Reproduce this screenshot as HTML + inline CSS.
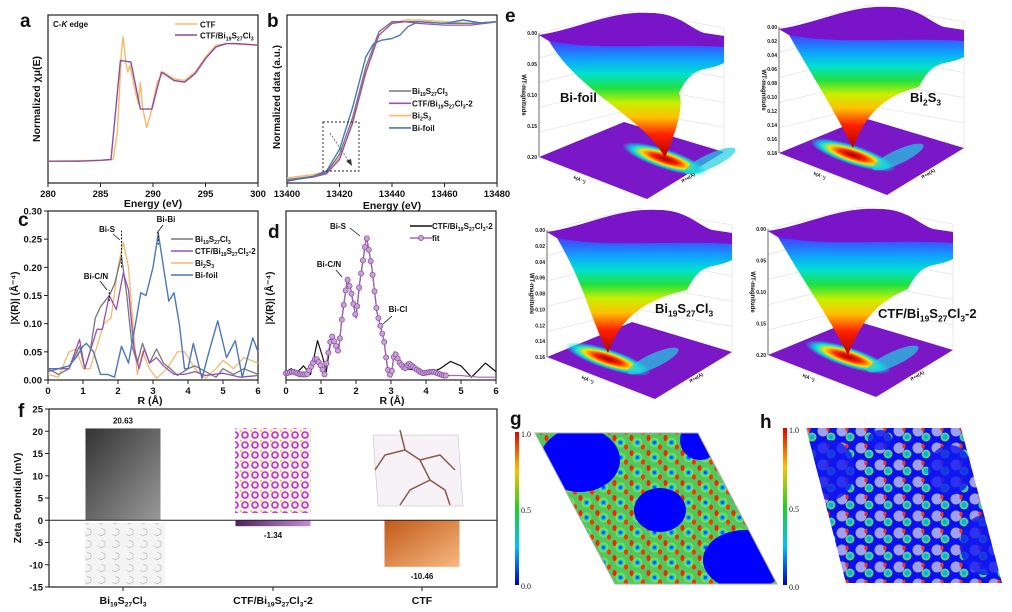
<!DOCTYPE html>
<html><head><meta charset="utf-8"><style>
html,body{margin:0;padding:0;background:#fff;}
svg{display:block;font-family:"Liberation Sans",Arial,sans-serif;}
</style></head><body>
<svg id="fig" width="1012" height="612" viewBox="0 0 1012 612" xmlns="http://www.w3.org/2000/svg">
<defs>
<linearGradient id="rainbow" x1="0" y1="0" x2="0" y2="1">
<stop offset="0" stop-color="#8a10d0"/><stop offset="0.18" stop-color="#4a30ff"/><stop offset="0.32" stop-color="#10a0ff"/><stop offset="0.42" stop-color="#00e0d0"/><stop offset="0.52" stop-color="#20e040"/><stop offset="0.62" stop-color="#c8f000"/><stop offset="0.72" stop-color="#ffc000"/><stop offset="0.84" stop-color="#ff2000"/><stop offset="1" stop-color="#b00000"/>
</linearGradient>
<linearGradient id="cbar" x1="0" y1="0" x2="0" y2="1">
<stop offset="0" stop-color="#e00000"/><stop offset="0.25" stop-color="#ffc000"/><stop offset="0.5" stop-color="#20d020"/><stop offset="0.75" stop-color="#00c0ff"/><stop offset="1" stop-color="#0000c0"/>
</linearGradient>
<linearGradient id="grayBar" x1="0" y1="0" x2="1" y2="1"><stop offset="0" stop-color="#333"/><stop offset="1" stop-color="#999"/></linearGradient>
<linearGradient id="purpBar" x1="0" y1="0" x2="1" y2="0"><stop offset="0" stop-color="#4a2858"/><stop offset="1" stop-color="#c58ad8"/></linearGradient>
<linearGradient id="orBar" x1="0" y1="0" x2="1" y2="1"><stop offset="0" stop-color="#c05a18"/><stop offset="1" stop-color="#f8b880"/></linearGradient>
<radialGradient id="floorHot"><stop offset="0" stop-color="#a00000"/><stop offset="0.3" stop-color="#ff2000"/><stop offset="0.55" stop-color="#ffe000"/><stop offset="0.75" stop-color="#00e0e0"/><stop offset="1" stop-color="#00e0e0" stop-opacity="0"/></radialGradient>
<pattern id="elf" width="17" height="15" patternUnits="userSpaceOnUse">
<rect width="17" height="15" fill="#50c860"/>
<circle cx="8.5" cy="7.5" r="5" fill="#80e040"/><circle cx="8.5" cy="7.5" r="3" fill="#00c0ff"/><circle cx="8.5" cy="7.5" r="1.4" fill="#1030ff"/>
<ellipse cx="2.5" cy="3" rx="2" ry="3" fill="#ff2000"/><ellipse cx="14" cy="12" rx="2" ry="2.6" fill="#ff3000"/>
</pattern>
<pattern id="elf2" width="19" height="17" patternUnits="userSpaceOnUse">
<rect width="19" height="17" fill="#0a10f0"/>
<circle cx="6" cy="6" r="5.5" fill="#b0b0f0" opacity="0.9"/><circle cx="14" cy="12" r="4.5" fill="#60d060"/><circle cx="14" cy="12" r="2.5" fill="#00b0ff"/><ellipse cx="11" cy="4" rx="1.6" ry="2.4" fill="#ff3000"/>
</pattern>
<pattern id="mag" width="10" height="10" patternUnits="userSpaceOnUse">
<rect width="10" height="10" fill="#f6f0f6"/><circle cx="5" cy="5" r="3" fill="none" stroke="#c030c0" stroke-width="1.6"/><circle cx="1" cy="1" r="1.2" fill="#d8e040"/>
</pattern>
<pattern id="hexg" width="14" height="12" patternUnits="userSpaceOnUse">
<rect width="14" height="12" fill="#f4f4f4"/><path d="M3 0 L7 2 L7 6 L3 8 L0 6" fill="none" stroke="#bbb" stroke-width="0.7"/>
</pattern>
</defs>
<g id="root"></g>
</svg>
<script>
// ---------- DATA ----------
const aEnergy = [280,283,285,286,286.9,287.9,288.8,289.9,290.8,292,293,294,295,296,297,298,300];
const aCTFBi  = [0.13,0.13,0.135,0.14,0.73,0.72,0.44,0.44,0.66,0.61,0.60,0.65,0.74,0.81,0.83,0.83,0.82];
const aEnergyCTF = [280,285,286.2,286.6,287,287.15,287.4,287.6,287.8,288,288.3,288.6,288.8,289,289.4,289.8,290.4,291,292,293,294,295,296,297,300];
const aCTF = [0.13,0.135,0.14,0.3,0.78,0.87,0.72,0.66,0.70,0.64,0.55,0.47,0.6,0.45,0.33,0.42,0.6,0.66,0.62,0.61,0.66,0.75,0.82,0.83,0.82];
const aTicks = [280,285,290,295,300];

const bE = [13400,13410,13415,13420,13425,13430,13433,13436,13440,13443,13446,13450,13460,13467,13475,13480];
const bBifoil = [0.01,0.04,0.07,0.2,0.45,0.75,0.83,0.85,0.86,0.88,0.93,0.96,0.95,0.97,0.95,0.96];
const bE2 = [13400,13410,13415,13420,13425,13430,13435,13440,13445,13450,13460,13470,13480];
const bBi2S3 = [0.03,0.05,0.07,0.15,0.35,0.65,0.88,0.95,0.97,0.97,0.96,0.95,0.96];
const bBi19 = [0.02,0.04,0.06,0.17,0.39,0.69,0.9,0.96,0.96,0.96,0.95,0.95,0.96];
const bCTFBi = [0.015,0.035,0.055,0.14,0.36,0.66,0.88,0.95,0.96,0.95,0.94,0.94,0.96];
const bTicks = [13400,13420,13440,13460,13480];

const cR_foil = [0,0.3,0.6,0.8,1.0,1.1,1.3,1.5,1.7,1.9,2.1,2.3,2.5,2.65,2.8,3.0,3.15,3.3,3.45,3.6,3.75,3.9,4.0,4.15,4.4,4.6,4.85,5.1,5.35,5.55,5.85,6];
const cFoil = [0.02,0.02,0.025,0.04,0.06,0.065,0.05,0.01,0.01,0.005,0.06,0.03,0.1,0.155,0.15,0.2,0.26,0.2,0.14,0.155,0.1,0.02,0.02,0.065,0.003,0.05,0.105,0.04,0.07,0.005,0.075,0.05];
const cR_bi19 = [0,0.3,0.6,0.9,1.05,1.2,1.35,1.5,1.75,1.9,2.1,2.25,2.4,2.55,2.7,2.9,3.1,3.3,3.5,3.7,4.0,4.2,4.5,4.8,5.0,5.3,5.6,6];
const cBi19 = [0.02,0.01,0.02,0.06,0.02,0.05,0.11,0.13,0.15,0.17,0.22,0.15,0.06,0.03,0.065,0.03,0.055,0.03,0.02,0.008,0.02,0.025,0.015,0.005,0.02,0.01,0.02,0.01];
const cR_ctf = [0,0.3,0.6,0.9,1.05,1.2,1.4,1.55,1.75,1.95,2.15,2.3,2.45,2.6,2.75,2.9,3.1,3.3,3.6,3.9,4.2,4.5,5.0,5.5,6];
const cCTF = [0.015,0.02,0.02,0.072,0.02,0.05,0.09,0.09,0.15,0.125,0.19,0.16,0.06,0.02,0.055,0.03,0.04,0.025,0.01,0.01,0.015,0.008,0.012,0.005,0.008];
const cR_bs = [0,0.3,0.6,0.8,1.0,1.2,1.4,1.6,1.8,2.0,2.15,2.3,2.45,2.55,2.7,2.9,3.1,3.4,3.7,3.9,4.2,4.5,4.8,5.0,5.3,5.6,6];
const cBi2S3 = [0.01,0.005,0.05,0.055,0.02,0.02,0.06,0.1,0.11,0.2,0.245,0.2,0.08,0.01,0.05,0.02,0.003,0.02,0.05,0.05,0.02,0.003,0.02,0.035,0.02,0.04,0.03];
const cXTicks = [0,1,2,3,4,5,6];
const cYTicks = [0,0.05,0.10,0.15,0.20,0.25,0.30];
const cYLabels = ["0.00","0.05","0.10","0.15","0.20","0.25","0.30"];

const dR = [0,0.2,0.4,0.6,0.85,1.0,1.1,1.3,1.5,1.6,1.75,1.85,2.0,2.1,2.3,2.45,2.6,2.8,2.9,3.0,3.1,3.25,3.4,3.5,3.7,3.9,4.2,4.5,5.0,5.5,6];
const dFit = [0.012,0.015,0.01,0.01,0.04,0.025,0.01,0.08,0.05,0.11,0.18,0.16,0.11,0.17,0.255,0.2,0.12,0.07,0.02,0.005,0.05,0.03,0.02,0.03,0.02,0.012,0.015,0.008,0.008,0.005,0.005];
const dR_exp = [0,0.15,0.3,0.5,0.7,0.9,1.05,1.15,1.3,1.5,1.6,1.75,1.85,2.0,2.1,2.3,2.45,2.6,2.8,2.9,3.0,3.1,3.25,3.4,3.7,4.0,4.4,4.7,5.0,5.3,5.7,6];
const dExp = [0.015,0.02,0.012,0.025,0.01,0.07,0.04,0.015,0.08,0.05,0.11,0.18,0.16,0.11,0.17,0.255,0.2,0.12,0.07,0.02,0.005,0.05,0.03,0.02,0.018,0.01,0.02,0.033,0.025,0.005,0.03,0.015];

const fCats = ["Bi19S27Cl3","CTF/Bi19S27Cl3-2","CTF"];
const fVals = [20.63,-1.34,-10.46];
const fLabels = ["20.63","-1.34","-10.46"];
const fTicks = [-15,-10,-5,0,5,10,15,20,25];

// ---------- HELPERS ----------
const NS="http://www.w3.org/2000/svg";
const root=document.getElementById('root');
function mk(tag,attrs,parent){const e=document.createElementNS(NS,tag);for(const k in attrs)e.setAttribute(k,attrs[k]);(parent||root).appendChild(e);return e;}
function scale(d0,d1,r0,r1){return v=>r0+(v-d0)/(d1-d0)*(r1-r0);}
function txt(x,y,s,size,anchor,parent,extra){const t=mk('text',Object.assign({x:x,y:y,'font-size':size,'font-weight':'bold','text-anchor':anchor||'start',fill:'#111'},extra||{}),parent);t.textContent=s;return t;}
function ftxt(x,y,parts,size,anchor,parent){const t=mk('text',{x:x,y:y,'font-size':size,'font-weight':'bold','text-anchor':anchor||'start',fill:'#111'},parent);
 let shifted=false;
 parts.forEach(p=>{const s=document.createElementNS(NS,'tspan');s.textContent=p[0];
  if(p[1]){s.setAttribute('font-size',size*0.65);s.setAttribute('dy',shifted?0:size*0.25);shifted=true;}
  else{s.setAttribute('dy',shifted?-size*0.25:0);shifted=false;}
  t.appendChild(s);});return t;}
const BI19=[["Bi",0],["19",1],["S",0],["27",1],["Cl",0],["3",1]];
const CTFBI19=[["CTF/Bi",0],["19",1],["S",0],["27",1],["Cl",0],["3",1]];
const CTFBI19_2=[["CTF/Bi",0],["19",1],["S",0],["27",1],["Cl",0],["3",1],["-2",0]];
const BI2S3=[["Bi",0],["2",1],["S",0],["3",1]];
function line(xs,ys,sx,sy,color,w,g,name){const d=xs.map((x,i)=>(i?'L':'M')+sx(x).toFixed(1)+' '+sy(ys[i]).toFixed(1)).join(' ');
 const p=mk('path',{d:d,fill:'none',stroke:color,'stroke-width':w||1.3,'stroke-linejoin':'round'},g);
 
 return p;}
function frame(x0,y0,x1,y1,g){mk('rect',{x:x0,y:y0,width:x1-x0,height:y1-y0,fill:'none',stroke:'#222','stroke-width':1.2},g);}
function xTicks(ticks,labels,sx,y1,g,size){ticks.forEach((t,i)=>{mk('line',{x1:sx(t),x2:sx(t),y1:y1,y2:y1+4,stroke:'#222','stroke-width':1},g);txt(sx(t),y1+14,labels?labels[i]:String(t),size||9.5,'middle',g);});}
function yTicks(ticks,labels,sy,x0,g){ticks.forEach((t,i)=>{mk('line',{x1:x0-4,x2:x0,y1:sy(t),y2:sy(t),stroke:'#222','stroke-width':1},g);txt(x0-6,sy(t)+3.5,labels[i],9.5,'end',g);});}
function panelLabel(x,y,s){const t=txt(x,y,s,19,'start');}
function group(name){const g=mk('g',{});return g;}
function legLine(x,y,color,g){mk('line',{x1:x,x2:x+22,y1:y,y2:y,stroke:color,'stroke-width':1.6},g);}

// ---------- PANEL A ----------
(function(){const g=group('panel-a-chart');
 const sx=scale(280,300,48,258), sy=scale(0,1,183,15);
 frame(48,15,258,183,g);
 line(aEnergyCTF,aCTF,sx,sy,'#f7b86a',1.4,g,'ctf-line');
 line(aEnergy,aCTFBi,sx,sy,'#8e4ea0',1.4,g,'ctf-bi19s27cl3-line');
 xTicks(aTicks,null,sx,183,g);
 txt(153,207,'Energy (eV)',10.5,'middle',g);
 txt(0,0,'Normalized χμ(E)',10.5,'middle',g,{transform:'translate(40,99) rotate(-90)'});
 const ce=mk('text',{x:53,y:27,'font-size':8,'font-weight':'bold',fill:'#111'},g);ce.innerHTML='C-<tspan font-style="italic">K</tspan> edge';
 legLine(175,24,'#f7b86a',g);txt(200,27.5,'CTF',8,'start',g);
 legLine(175,35,'#8e4ea0',g);ftxt(200,38.5,CTFBI19,8,'start',g);
})();
panelLabel(20,27,'a');

// ---------- PANEL B ----------
(function(){const g=group('panel-b-chart');
 const sx=scale(13400,13480,287,497), sy=scale(0,1,183,15);
 frame(287,15,497,183,g);
 line(bE2,bBi2S3,sx,sy,'#f7b86a',1.4,g,'bi2s3-line');
 line(bE2,bBi19,sx,sy,'#777777',1.3,g,'bi19s27cl3-line');
 line(bE2,bCTFBi,sx,sy,'#9a50b0',1.3,g,'ctf-bi19s27cl3-2-line');
 line(bE,bBifoil,sx,sy,'#4a78b8',1.4,g,'bi-foil-line');
 xTicks(bTicks,null,sx,183,g);
 txt(392,209,'Energy (eV)',10.5,'middle',g);
 txt(0,0,'Normalized data (a.u.)',10,'middle',g,{transform:'translate(280,97) rotate(-90)'});
 mk('rect',{x:323,y:122,width:36,height:49,fill:'none',stroke:'#222','stroke-width':0.9,'stroke-dasharray':'2,2'},g);
 mk('line',{x1:330,y1:133,x2:350,y2:163,stroke:'#555','stroke-width':0.8,'stroke-dasharray':'2,1.5'},g);
 mk('path',{d:'M352 166 L346 161 L351 159 Z',fill:'#333'},g);
 const items=[[BI19,'#777777'],[CTFBI19_2,'#9a50b0'],[BI2S3,'#f7b86a'],[[["Bi-foil",0]],'#4a78b8']];
 items.forEach((it,i)=>{const y=91+i*12.3;legLine(389,y,it[1],g);ftxt(412,y+3,it[0],8,'start',g);});
})();
panelLabel(267,27,'b');

// ---------- PANEL C ----------
(function(){const g=group('panel-c-chart');
 const sx=scale(0,6,48,258), sy=scale(0,0.30,380,211);
 frame(48,211,258,380,g);
 line(cR_bs,cBi2S3,sx,sy,'#f7b86a',1.3,g,'bi2s3-line');
 line(cR_bi19,cBi19,sx,sy,'#777777',1.3,g,'bi19s27cl3-line');
 line(cR_ctf,cCTF,sx,sy,'#9a50b0',1.3,g,'ctf-bi19s27cl3-2-line');
 line(cR_foil,cFoil,sx,sy,'#4a78b8',1.4,g,'bi-foil-line');
 xTicks(cXTicks,null,sx,380,g);
 yTicks(cYTicks,cYLabels,sy,48,g);
 txt(150,404,'R (Å)',10.5,'middle',g);
 txt(0,0,'|X(R)| (Å⁻⁴)',10,'middle',g,{transform:'translate(18,298) rotate(-90)'});
 [[2.1,0.2,0.265],[1.75,0.14,0.16],[3.15,0.24,0.265]].forEach(d=>{mk('line',{x1:sx(d[0]),x2:sx(d[0]),y1:sy(d[1]),y2:sy(d[2]),stroke:'#111','stroke-width':1,'stroke-dasharray':'2,1.5'},g);});
 txt(107,232,'Bi-S',8,'middle',g);mk('line',{x1:113,y1:234,x2:120,y2:240,stroke:'#111','stroke-width':0.8},g);
 txt(166,222,'Bi-Bi',8,'middle',g);mk('line',{x1:163,y1:225,x2:157,y2:233,stroke:'#111','stroke-width':0.8},g);
 txt(96,279,'Bi-C/N',8,'middle',g);mk('line',{x1:100,y1:281,x2:107,y2:290,stroke:'#111','stroke-width':0.8},g);
 const items=[[BI19,'#777777'],[CTFBI19_2,'#9a50b0'],[BI2S3,'#f7b86a'],[[["Bi-foil",0]],'#4a78b8']];
 items.forEach((it,i)=>{const y=239+i*12;legLine(171,y,it[1],g);ftxt(195,y+3,it[0],8,'start',g);});
})();
panelLabel(18,226,'c');

// ---------- PANEL D ----------
(function(){const g=group('panel-d-chart');
 const sx=scale(0,6,286,496), sy=scale(0,0.30,380,211);
 frame(286,211,496,380,g);
 line(dR_exp,dExp,sx,sy,'#111',1.2,g,'experimental-line');
 line(dR,dFit,sx,sy,'#a468b8',1.2,g,'fit-line');
 const mg=group('fit-markers');g.appendChild(mg);
 for(let r=0;r<=4.6;r+=0.055){let i=0;while(i<dR.length-2&&dR[i+1]<r)i++;const t=(r-dR[i])/(dR[i+1]-dR[i]);const v=dFit[i]+t*(dFit[i+1]-dFit[i]);
  mk('circle',{cx:sx(r),cy:sy(v),r:2.6,fill:'#c9a0d8',stroke:'#8a4aa0','stroke-width':0.7},mg);}
 xTicks(cXTicks,null,sx,380,g);
 txt(392,404,'R (Å)',10.5,'middle',g);
 txt(0,0,'|X(R)| (Å⁻⁴)',10,'middle',g,{transform:'translate(273,298) rotate(-90)'});
 txt(338,229,'Bi-S',8,'middle',g);mk('line',{x1:350,y1:228,x2:360,y2:236,stroke:'#111','stroke-width':0.8},g);
 txt(329,267,'Bi-C/N',8,'middle',g);mk('line',{x1:336,y1:270,x2:342,y2:277,stroke:'#111','stroke-width':0.8},g);
 txt(398,312,'Bi-Cl',8,'middle',g);mk('line',{x1:392,y1:316,x2:383,y2:324,stroke:'#111','stroke-width':0.8},g);
 legLine(410,226,'#111',g);ftxt(432,229,CTFBI19_2,8,'start',g);
 legLine(410,238,'#a468b8',g);mk('circle',{cx:421,cy:238,r:2.6,fill:'#c9a0d8',stroke:'#8a4aa0','stroke-width':0.7},g);txt(432,241,'fit',8,'start',g);
})();
panelLabel(268,238,'d');

// ---------- PANEL E ----------
function drawE(name,ax,top,floorY,tip,label,lx,ly,yl){const g=group(name);
 const bw=mk('g',{stroke:'#ddd','stroke-width':0.6,fill:'none'},g);
 mk('path',{d:`M${ax} ${top} L${ax+90} ${top-22} L${ax+185} ${top-5} L${ax+185} ${floorY-5} M${ax+90} ${top-22} L${ax+90} ${floorY-35}`},bw);
 for(let k=1;k<5;k++){const yy=top+(floorY-top)*k/5;mk('line',{x1:ax,y1:yy,x2:ax+90,y2:yy-22},bw);mk('line',{x1:ax+90,y1:yy-22,x2:ax+185,y2:yy-5},bw);}
 mk('path',{d:`M${ax} ${floorY} L${ax+108} ${floorY+42} L${ax+185} ${floorY-5} L${ax+85} ${floorY-35} Z`,fill:'#7a18c8'},g);
 mk('ellipse',{cx:tip[0],cy:floorY+2,rx:45,ry:10,fill:'url(#floorHot)',transform:`rotate(18 ${tip[0]} ${floorY+2})`},g);
 mk('ellipse',{cx:tip[0]+45,cy:floorY+4,rx:28,ry:7,fill:'#20d0e0',opacity:0.7,transform:`rotate(-25 ${tip[0]+45} ${floorY+4})`},g);
 const R=ax+185;
 const d=`M${ax} ${top+2} C${ax+40} ${top-4} ${ax+70} ${top-22} ${ax+110} ${top-20} C${ax+140} ${top-20} ${ax+150} ${top-5} ${ax+165} ${top} L${R} ${top+3} L${R} ${top+30} C${R-20} ${top+40} ${R-30} ${top+30} ${R-45} ${top+60} C${tip[0]+20} ${tip[1]-50} ${tip[0]+8} ${tip[1]-20} ${tip[0]} ${tip[1]} C${tip[0]-20} ${tip[1]-40} ${ax+40} ${top+60} ${ax+10} ${top+8} Z`;
 mk('path',{d:d,fill:'url(#rainbow)'},g);
 mk('path',{d:`M${ax} ${top+2} C${ax+40} ${top-4} ${ax+70} ${top-22} ${ax+110} ${top-20} C${ax+140} ${top-20} ${ax+150} ${top-5} ${ax+165} ${top} L${R} ${top+3} L${R} ${top+14} C${ax+120} ${top+10} ${ax+60} ${top+18} ${ax+10} ${top+8} Z`,fill:'#7a14c8'},g);
 mk('line',{x1:ax,y1:top,x2:ax,y2:floorY,stroke:'#444','stroke-width':0.8},g);
 yl.forEach((s,i)=>{const yy=top+(floorY-top)*i/(yl.length-1);txt(ax-2,yy+2,s,5,'end',g);});
 txt(0,0,'WT-magnitude',6,'middle',g,{transform:`translate(${ax-17},${(top+floorY)/2}) rotate(90)`});
 txt(ax+40,floorY+24,'k(Å⁻¹)',4.5,'middle',g,{transform:`rotate(25 ${ax+40} ${floorY+24})`});
 txt(ax+150,floorY+22,'R+α(Å)',4.5,'middle',g,{transform:`rotate(-30 ${ax+150} ${floorY+22})`});
 ftxt(lx,ly,label,13,'start',g);
}
drawE('wavelet-bi-foil',539,33,157,[665,158],[["Bi-foil",0]],560,102,["0.00","0.05","0.10","0.15","0.20"]);
drawE('wavelet-bi2s3',779,27,153,[853,148],BI2S3,910,102,["0.00","0.02","0.04","0.06","0.08","0.10","0.12","0.14","0.16","0.18"]);
drawE('wavelet-bi19s27cl3',547,230,357,[608,353],BI19,655,313,["0.00","0.02","0.04","0.06","0.08","0.10","0.12","0.14","0.16"]);
drawE('wavelet-ctf-bi19s27cl3-2',768,229,355,[848,355],CTFBI19_2,878,318,["0.00","0.05","0.10","0.15","0.20"]);
panelLabel(505,22,'e');

// ---------- PANEL F ----------
(function(){const g=group('panel-f-chart');
 const sy=scale(-15,25,587,409);
 const cx=[123,273,422], bw=75;
 frame(49,409,497,587,g);
 mk('rect',{x:85,y:523,width:80,height:62,fill:'url(#hexg)'},g);
 mk('rect',{x:235,y:428,width:76,height:85,fill:'url(#mag)'},g);
 mk('path',{d:'M373 435 L458 435 L463 506 L378 506 Z',fill:'#f7f2f7',stroke:'#bbb','stroke-width':0.5},g);
 mk('path',{d:'M400 430 L405 450 L420 460 L430 480 L445 490 L450 505 M420 460 L440 455 L455 470 M430 480 L410 490 L400 505 M405 450 L385 455 L375 470',fill:'none',stroke:'#8a5a4a','stroke-width':1.5},g);
 fVals.forEach((v,i)=>{const y0=sy(0),y1=sy(v);
  const r=mk('rect',{x:cx[i]-bw/2,y:Math.min(y0,y1),width:bw,height:Math.abs(y1-y0),fill:['url(#grayBar)','url(#purpBar)','url(#orBar)'][i]},g);
  
  
  txt(cx[i],v>=0?y1-5:y1+12,fLabels[i],8,'middle',g);
 });
 mk('line',{x1:49,x2:497,y1:sy(0),y2:sy(0),stroke:'#222','stroke-width':1},g);
 yTicks(fTicks,fTicks.map(String),sy,49,g);
 cx.forEach(x=>mk('line',{x1:x,x2:x,y1:587,y2:591,stroke:'#222'},g));
 ftxt(cx[0],604,BI19,10.5,'middle',g);
 ftxt(cx[1],604,CTFBI19_2,10.5,'middle',g);
 txt(cx[2],604,'CTF',10.5,'middle',g);
 txt(0,0,'Zeta Potential (mV)',10,'middle',g,{transform:'translate(21,498) rotate(-90)'});
})();
panelLabel(18,417,'f');

// ---------- PANEL G / H ----------
(function(){const g=group('panel-g-elf');
 mk('rect',{x:515,y:432,width:4,height:153,fill:'url(#cbar)'},g);
 [['1.0',434],['0.5',510],['0.0',586]].forEach(s=>txt(521,s[1]+3,s[0],8,'start',g,{'font-weight':'normal','font-family':'Liberation Serif, serif'}));
 mk('clipPath',{id:'gclip'},g).appendChild(mk('path',{d:'M535 433 L698 433 L777 584 L615 584 Z'},g));
 const c=mk('g',{'clip-path':'url(#gclip)'},g);
 mk('rect',{x:530,y:430,width:250,height:160,fill:'url(#elf)'},c);
 [[580,460,40,32],[660,510,26,22],[745,560,42,30],[700,440,20,20],[540,590,30,25]].forEach(p=>mk('ellipse',{cx:p[0],cy:p[1],rx:p[2],ry:p[3],fill:'#0000ff'},c));
 mk('path',{d:'M535 433 L698 433 L777 584 L615 584 Z',fill:'none',stroke:'#aaa','stroke-width':1},g);
})();
panelLabel(510,425,'g');
(function(){const g=group('panel-h-elf');
 mk('rect',{x:783,y:428,width:4,height:157,fill:'url(#cbar)'},g);
 [['1.0',430],['0.5',509],['0.0',587]].forEach(s=>txt(789,s[1]+3,s[0],8,'start',g,{'font-weight':'normal','font-family':'Liberation Serif, serif'}));
 mk('clipPath',{id:'hclip'},g).appendChild(mk('path',{d:'M806 428 L961 428 L1002 583 L846 583 Z'},g));
 const c=mk('g',{'clip-path':'url(#hclip)'},g);
 mk('rect',{x:800,y:425,width:210,height:165,fill:'url(#elf2)'},c);
 [[830,470,25,30],[950,470,22,25],[985,545,25,30],[880,440,12,10]].forEach(p=>mk('ellipse',{cx:p[0],cy:p[1],rx:p[2],ry:p[3],fill:'#1018f0',opacity:0.8},c));
})();
panelLabel(760,428,'h');
</script>
</body></html>
